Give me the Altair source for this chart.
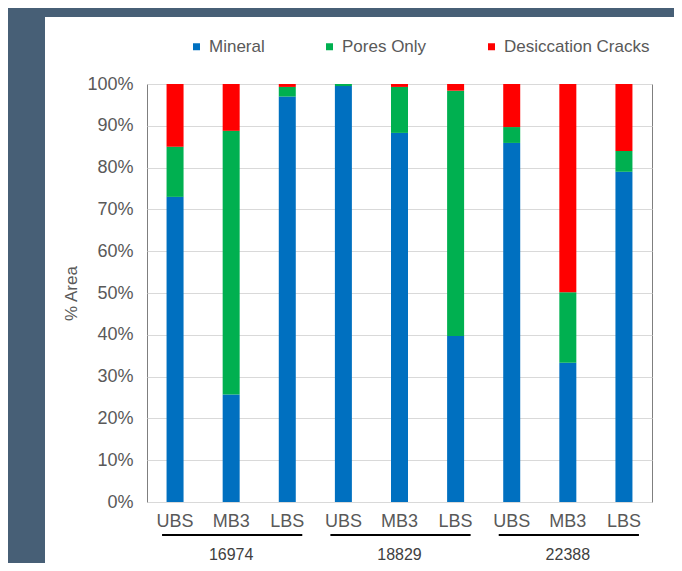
import altair as alt
import pandas as pd

# ---- data ----
groups = ["16974", "18829", "22388"]
sections = ["UBS", "MB3", "LBS"]
series = ["Mineral", "Pores Only", "Desiccation Cracks"]
colors = ["#0070c0", "#00b050", "#ff0000"]

# % area per bar (order: 16974 UBS, MB3, LBS, 18829 UBS, MB3, LBS, 22388 UBS, MB3, LBS)
mineral = [73.0, 25.7, 97.0, 99.5, 88.3, 39.7, 85.9, 33.3, 79.0]
pores = [12.0, 63.1, 2.3, 0.5, 11.0, 58.7, 3.8, 16.9, 5.0]
cracks = [15.0, 11.2, 0.7, 0.0, 0.7, 1.6, 10.3, 49.8, 16.0]

keys = [f"{g}|{s}" for g in groups for s in sections]

rows = []
for i, k in enumerate(keys):
    for j, (name, vals) in enumerate(zip(series, [mineral, pores, cracks])):
        rows.append({"key": k, "series": name, "value": vals[i], "ord": j})
df = pd.DataFrame(rows)

grp = pd.DataFrame({
    "group": groups,
    "first": [f"{g}|UBS" for g in groups],
    "last": [f"{g}|LBS" for g in groups],
    "mid": [f"{g}|MB3" for g in groups],
})

FONT = "Liberation Sans"
xscale = alt.Scale(domain=keys, paddingInner=0, paddingOuter=0)

bars = alt.Chart(df).mark_bar(size=17).encode(
    x=alt.X("key:N", scale=xscale, sort=keys,
            axis=alt.Axis(title=None, labelExpr="split(datum.value, '|')[1]",
                          labelAngle=0, ticks=False, domain=False, grid=False,
                          labelPadding=10, labelFontSize=18, labelColor="#595959",
                          labelFont=FONT)),
    y=alt.Y("value:Q", stack="normalize", scale=alt.Scale(domain=[0, 1]),
            axis=alt.Axis(title="% Area", format=".0%",
                          values=[i / 10 for i in range(11)],
                          ticks=False, domain=False, gridColor="#d9d9d9",
                          labelPadding=14, labelFontSize=18, labelColor="#595959",
                          labelFont=FONT, titleFont=FONT, titleFontSize=17,
                          titleFontWeight="normal", titleColor="#595959",
                          titlePadding=6)),
    color=alt.Color("series:N", scale=alt.Scale(domain=series, range=colors),
                    sort=series,
                    legend=alt.Legend(title=None, orient="none", legendX=41, legendY=-46,
                                      direction="horizontal", symbolType="square",
                                      symbolSize=49, symbolStrokeWidth=0,
                                      labelFontSize=17, labelColor="#595959",
                                      labelFont=FONT, columnPadding=56, labelOffset=4)),
    order=alt.Order("ord:Q"),
)

lines = alt.Chart(grp).mark_rule(color="#000000", strokeWidth=2, xOffset=-13, x2Offset=15).encode(
    x=alt.X("first:N", scale=xscale, sort=keys),
    x2="last:N",
    y=alt.value(451),
)

glabels = alt.Chart(grp).mark_text(fontSize=16, color="#404040", font=FONT, baseline="middle").encode(
    x=alt.X("mid:N", scale=xscale, sort=keys),
    y=alt.value(471),
    text="group:N",
)

# dark frame strips (page background outside the white panel)
frame_left = alt.Chart(grp).mark_rect(color="#475f76", clip=False).encode(
    x=alt.value(-139), x2=alt.value(-102), y=alt.value(-76), y2=alt.value(479))
frame_top = alt.Chart(grp).mark_rect(color="#475f76", clip=False).encode(
    x=alt.value(-139), x2=alt.value(527), y=alt.value(-76), y2=alt.value(-67))

chart = alt.layer(frame_left, frame_top, bars, lines, glabels).properties(
    width=505, height=418,
    autosize=alt.AutoSizeParams(type="none"),
    padding={"left": 139, "top": 76, "right": 22, "bottom": 61},
    background="white",
).configure_view(stroke="#7f7f7f", strokeWidth=1)

chart.save("out.html", embed_options={"renderer": "svg", "actions": False})
